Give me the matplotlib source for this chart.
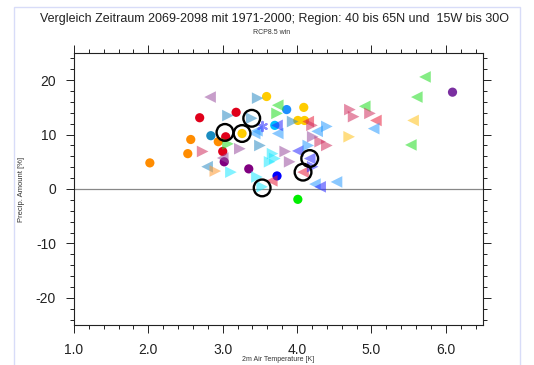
import numpy as np
import matplotlib
matplotlib.use('Agg')
import matplotlib.pyplot as plt
from matplotlib.ticker import MultipleLocator, FormatStrFormatter
from matplotlib.patches import Rectangle

plt.rcParams['font.family'] = ['Liberation Sans', 'DejaVu Sans']
plt.rcParams['axes.unicode_minus'] = False

# Kreise (deckend), Farbe -> (x, y)
circ_orange_x = [2.02, 2.57, 2.53, 2.94]
circ_orange_y = [4.8, 9.1, 6.5, 8.7]
circ_red_x = [2.69, 3.18, 3.00, 3.04]
circ_red_y = [13.1, 14.1, 6.9, 9.6]
circ_gold_x = [3.59, 4.09, 4.01, 4.10, 3.26]
circ_gold_y = [17.0, 15.0, 12.6, 12.6, 10.2]
circ_dblue_x = [3.86]
circ_dblue_y = [14.6]
circ_teal_x = [2.84]
circ_teal_y = [9.8]
circ_sky_x = [3.70]
circ_sky_y = [11.7]
circ_purple_x = [3.02, 3.35]
circ_purple_y = [5.0, 3.7]
circ_violet_x = [6.09]
circ_violet_y = [17.8]
circ_blue_x = [3.73]
circ_blue_y = [2.4]
circ_lime_x = [4.01]
circ_lime_y = [-1.9]

# Dreiecke nach links
tl_mauve_x = [2.83, 3.00]
tl_mauve_y = [16.9, 5.7]
tl_steel_x = [2.79]
tl_steel_y = [4.1]
tl_green_x = [3.74, 4.91, 5.72, 5.61, 5.53]
tl_green_y = [15.4, 15.2, 20.6, 16.9, 8.1]
tl_yellow_x = [5.56]
tl_yellow_y = [12.6]
tl_red_x = [4.15, 5.06, 4.08, 3.66]
tl_red_y = [12.4, 12.6, 3.1, 1.5]
tl_lblue_x = [3.74, 4.27, 5.03, 4.24, 4.53, 3.46, 3.43]
tl_lblue_y = [10.2, 10.6, 11.1, 0.9, 1.3, 10.7, 10.2]
tl_blue_x = [4.31, 4.01, 4.17, 3.73]
tl_blue_y = [0.4, 7.0, 5.6, 11.7]

# Dreiecke nach rechts
tr_steel_x = [3.47, 3.07, 3.39, 3.50, 3.94]
tr_steel_y = [16.7, 13.5, 13.0, 8.0, 12.4]
tr_green_x = [3.73, 3.07]
tr_green_y = [13.9, 8.3]
tr_pink_x = [4.20, 4.31, 4.40, 4.71, 4.76, 4.98, 2.73]
tr_pink_y = [11.7, 8.7, 8.0, 14.6, 13.3, 13.9, 6.9]
tr_mauve_x = [4.21, 3.84, 3.90, 3.23]
tr_mauve_y = [9.6, 6.9, 5.0, 7.4]
tr_lblue_x = [4.40, 4.15]
tr_lblue_y = [11.5, 8.0]
tr_cyan_x = [3.11, 3.46, 3.67, 3.70, 3.63, 3.53]
tr_cyan_y = [3.1, 2.2, 6.5, 5.6, 5.0, 0.4]
tr_yellow_x = [4.70]
tr_yellow_y = [9.6]
tr_orange_x = [2.90]
tr_orange_y = [3.3]
tr_blue_x = [4.21]
tr_blue_y = [4.1]

# Stern
star_x = [3.53]
star_y = [11.5]

# markierte Modelle (schwarze Ringe)
ring_x = [3.03, 3.26, 3.39, 3.53, 4.17, 4.08]
ring_y = [10.4, 10.2, 13.0, 0.2, 5.6, 3.1]

fig = plt.figure(figsize=(5.34, 3.65), dpi=100)
ax = fig.add_axes([74/534, 1-325/365, 409/534, 272/365])

ax.axhline(0, color='#888888', lw=0.9, zorder=1)

tri_alpha = 0.55
tri_s = 70
tris = [
    (tl_mauve_x, tl_mauve_y, '<', '#9a4fa0'),
    (tl_steel_x, tl_steel_y, '<', '#2c8cc4'),
    (tl_green_x, tl_green_y, '<', '#22dd22'),
    (tl_yellow_x, tl_yellow_y, '<', '#ffc21a'),
    (tl_red_x, tl_red_y, '<', '#e8203c'),
    (tl_lblue_x, tl_lblue_y, '<', '#2a9cff'),
    (tl_blue_x, tl_blue_y, '<', '#2a2aff'),
    (tr_steel_x, tr_steel_y, '>', '#2c8cc4'),
    (tr_green_x, tr_green_y, '>', '#22dd22'),
    (tr_pink_x, tr_pink_y, '>', '#d03060'),
    (tr_mauve_x, tr_mauve_y, '>', '#9a4fa0'),
    (tr_lblue_x, tr_lblue_y, '>', '#2a9cff'),
    (tr_cyan_x, tr_cyan_y, '>', '#1ee8ff'),
    (tr_yellow_x, tr_yellow_y, '>', '#ffc21a'),
    (tr_orange_x, tr_orange_y, '>', '#ff9a30'),
    (tr_blue_x, tr_blue_y, '>', '#2a2aff'),
]
for xs, ys, m, c in tris:
    ax.scatter(xs, ys, marker=m, s=tri_s, color=c, alpha=tri_alpha,
               edgecolors='none', zorder=3)

ax.scatter(star_x, star_y, marker=(6, 2, 0), s=45, color='#3a3aff',
           alpha=0.6, linewidths=1.5, zorder=3)

circs = [
    (circ_orange_x, circ_orange_y, '#ff8c00'),
    (circ_red_x, circ_red_y, '#e0001a'),
    (circ_gold_x, circ_gold_y, '#ffcc00'),
    (circ_dblue_x, circ_dblue_y, '#1e90ff'),
    (circ_teal_x, circ_teal_y, '#1a8cc0'),
    (circ_sky_x, circ_sky_y, '#00bfff'),
    (circ_purple_x, circ_purple_y, '#800080'),
    (circ_violet_x, circ_violet_y, '#7a2fa0'),
    (circ_blue_x, circ_blue_y, '#0000ff'),
    (circ_lime_x, circ_lime_y, '#00ee00'),
]
for xs, ys, c in circs:
    ax.scatter(xs, ys, marker='o', s=44, color=c, edgecolors='none', zorder=2)

ax.scatter(ring_x, ring_y, marker='o', s=145, facecolors='none',
           edgecolors='black', linewidths=1.7, zorder=4)

ax.set_xlim(1.0, 6.5)
ax.set_ylim(-25, 25)
ax.xaxis.set_major_locator(MultipleLocator(1.0))
ax.xaxis.set_minor_locator(MultipleLocator(0.2))
ax.xaxis.set_major_formatter(FormatStrFormatter('%.1f'))
ax.yaxis.set_major_locator(MultipleLocator(10))
ax.yaxis.set_minor_locator(MultipleLocator(2))
ax.tick_params(which='both', direction='out', top=True, right=True,
               width=0.7, colors='#222222', labelcolor='#222222')
ax.tick_params(which='major', length=6, labelsize=10, pad=7)
ax.tick_params(which='minor', length=3)
for sp in ax.spines.values():
    sp.set_linewidth(0.8)
    sp.set_color('#222222')

# x-Beschriftung knapp unter den Tick-Labels
ax.set_xlabel('2m Air Temperature [K]', fontsize=5, color='#333333')
ax.xaxis.set_label_coords(0.5, -0.115)
ax.xaxis.label.set_va('top')
ax.set_ylabel('Precip. Amount [%]', fontsize=5.5, labelpad=8, color='#333333')

fig.text(274/534, 1-19/365, 'Vergleich Zeitraum 2069-2098 mit 1971-2000; Region: 40 bis 65N und  15W bis 30O',
         ha='center', va='center', fontsize=9.0, color='#222222')
fig.text(272/534, 1-32/365, 'RCP8.5 win', ha='center', va='center',
         fontsize=5, color='#333333')

fig.patches.append(Rectangle((14/534, -0.05), 506/534, 1.05-7/365,
                             transform=fig.transFigure, fill=False,
                             edgecolor='#d8dcf8', lw=1.0))

fig.savefig('out.png', dpi=100)
